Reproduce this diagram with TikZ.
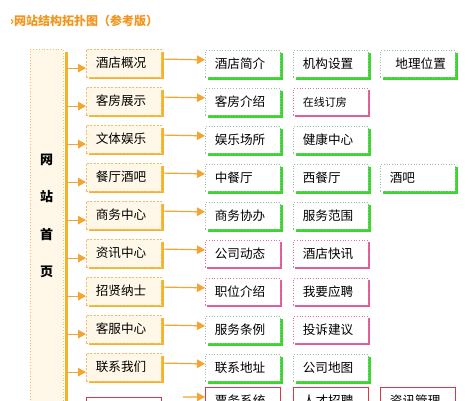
\documentclass[tikz,border=0pt]{standalone}
\usepackage{fontspec}
\newfontfamily\cjkfont{Noto Sans CJK SC}
\usepackage{xcolor}
\usetikzlibrary{positioning,arrows.meta,shadows}
\definecolor{titleorange}{RGB}{240,150,30}
\definecolor{trunkorange}{RGB}{245,180,40}
\definecolor{arroworange}{RGB}{242,165,50}
\definecolor{dashorange}{RGB}{240,190,110}
\definecolor{cream}{RGB}{255,248,232}
\definecolor{greenedge}{RGB}{150,195,170}
\definecolor{greenshade}{RGB}{60,215,45}
\definecolor{pinkedge}{RGB}{230,110,160}
\definecolor{pinkshade}{RGB}{225,90,150}
\definecolor{rededge}{RGB}{222,55,65}
\newcommand{\boxfont}{\cjkfont\fontsize{12.6}{15}\selectfont}

\begin{document}
\begin{tikzpicture}[x=1pt,y=-1pt,
  home/.style={draw=dashorange,dotted,line width=.8pt,fill=cream,minimum width=33pt,minimum height=380pt,anchor=north west,inner sep=0pt},
  hometext/.style={font=\cjkfont\bfseries\fontsize{13}{37.5}\selectfont,align=center},
  lvlone/.style={draw=dashorange,dash pattern=on 2pt off 1.5pt,line width=.7pt,fill=cream,text width=56pt,inner xsep=9.5pt,minimum height=27.5pt,align=left,anchor=north west,font=\boxfont,
    drop shadow={shadow xshift=2.5pt,shadow yshift=-2.5pt,fill=trunkorange,opacity=1}},
  lvltwo/.style={draw=greenedge,dotted,line width=.7pt,fill=white,text width=56pt,inner xsep=9.5pt,minimum height=27pt,align=left,anchor=north west,font=\boxfont},
  gbox/.style={lvltwo,drop shadow={shadow xshift=2.5pt,shadow yshift=-2.5pt,fill=greenshade,opacity=1}},
  pbox/.style={lvltwo,draw=pinkedge,drop shadow={shadow xshift=2pt,shadow yshift=-2pt,fill=pinkshade,opacity=1}},
  rbox/.style={lvltwo,draw=rededge,solid,line width=.9pt,drop shadow={shadow xshift=1pt,shadow yshift=-1pt,fill=rededge,opacity=1}},
  trunkline/.style={draw=trunkorange,line width=3pt},
  arr/.style={draw=arroworange,line width=1.2pt,-{Triangle[length=8pt,width=8.5pt]}}]
  \clip (0,0) rectangle (476,400);
  \fill[white] (0,0) rectangle (476,400);
  % title
  \node[anchor=west,inner sep=0pt,text=titleorange,font=\cjkfont\bfseries\fontsize{12}{14}\selectfont] (title) at (10,21) {›网站结构拓扑图（参考版）};
  % home column and trunk
  \node[home] (home) at (30,49) {};
  \node[hometext] (hometxt) at (46.5,216) {网\\站\\首\\页};
  \coordinate (trunk) at (66,52);
  \coordinate (trunkend) at (66,430);
  \draw[trunkline] (trunk) -- (trunkend);
  % first level
  \node[lvlone] (s1) at (86,49) {酒店概况};
  \node[lvlone] (s2) at (86,87) {客房展示};
  \node[lvlone] (s3) at (86,125) {文体娱乐};
  \node[lvlone] (s4) at (86,163) {餐厅酒吧};
  \node[lvlone] (s5) at (86,201) {商务中心};
  \node[lvlone] (s6) at (86,239) {资讯中心};
  \node[lvlone] (s7) at (86,277) {招贤纳士};
  \node[lvlone] (s8) at (86,315) {客服中心};
  \node[lvlone] (s9) at (86,353) {联系我们};
  \node[rbox,minimum height=28pt] (s10) at (86,397) {};
  % second level
  \node[gbox] (t1a) at (205,50) {酒店简介};
  \node[gbox] (t1b) at (293,50) {机构设置};
  \node[gbox,align=right] (t1c) at (380,50) {地理位置};
  \node[gbox] (t2a) at (205,88) {客房介绍};
  \node[pbox,font=\cjkfont\fontsize{11}{13}\selectfont] (t2b) at (293,88) {在线订房};
  \node[gbox] (t3a) at (205,126) {娱乐场所};
  \node[gbox] (t3b) at (293,126) {健康中心};
  \node[gbox] (t4a) at (205,164) {中餐厅};
  \node[gbox] (t4b) at (293,164) {西餐厅};
  \node[gbox] (t4c) at (380,164) {酒吧};
  \node[gbox] (t5a) at (205,202) {商务协办};
  \node[gbox] (t5b) at (293,202) {服务范围};
  \node[pbox] (t6a) at (205,240) {公司动态};
  \node[pbox] (t6b) at (293,240) {酒店快讯};
  \node[pbox] (t7a) at (205,278) {职位介绍};
  \node[pbox] (t7b) at (293,278) {我要应聘};
  \node[gbox] (t8a) at (205,316) {服务条例};
  \node[pbox] (t8b) at (293,316) {投诉建议};
  \node[gbox] (t9a) at (205,354) {联系地址};
  \node[gbox] (t9b) at (293,354) {公司地图};
  \node[rbox] (t10a) at (205,387) {票务系统};
  \node[rbox] (t10b) at (293,387) {人才招聘};
  \node[rbox] (t10c) at (380,387) {资讯管理};
  % trunk to first level
  \draw[arr] ([yshift=-5pt]s1.west -| trunk) -- ([yshift=-5pt]s1.west);
  \draw[arr] ([yshift=-5pt]s2.west -| trunk) -- ([yshift=-5pt]s2.west);
  \draw[arr] ([yshift=-5pt]s3.west -| trunk) -- ([yshift=-5pt]s3.west);
  \draw[arr] ([yshift=-5pt]s4.west -| trunk) -- ([yshift=-5pt]s4.west);
  \draw[arr] ([yshift=-5pt]s5.west -| trunk) -- ([yshift=-5pt]s5.west);
  \draw[arr] ([yshift=-5pt]s6.west -| trunk) -- ([yshift=-5pt]s6.west);
  \draw[arr] ([yshift=-5pt]s7.west -| trunk) -- ([yshift=-5pt]s7.west);
  \draw[arr] ([yshift=-5pt]s8.west -| trunk) -- ([yshift=-5pt]s8.west);
  \draw[arr] ([yshift=-5pt]s9.west -| trunk) -- ([yshift=-5pt]s9.west);
  \draw[arr] ([yshift=-5pt]s10.west -| trunk) -- ([yshift=-5pt]s10.west);
  % first level to second level
  \draw[arr] ([xshift=2.5pt,yshift=4pt]s1.east) -- ([yshift=4pt]t1a.west);
  \draw[arr] ([xshift=2.5pt,yshift=4pt]s2.east) -- ([yshift=4pt]t2a.west);
  \draw[arr] ([xshift=2.5pt,yshift=4pt]s3.east) -- ([yshift=4pt]t3a.west);
  \draw[arr] ([xshift=2.5pt,yshift=4pt]s4.east) -- ([yshift=4pt]t4a.west);
  \draw[arr] ([xshift=2.5pt,yshift=4pt]s5.east) -- ([yshift=4pt]t5a.west);
  \draw[arr] ([xshift=2.5pt,yshift=4pt]s6.east) -- ([yshift=4pt]t6a.west);
  \draw[arr] ([xshift=2.5pt,yshift=4pt]s7.east) -- ([yshift=4pt]t7a.west);
  \draw[arr] ([xshift=2.5pt,yshift=4pt]s8.east) -- ([yshift=4pt]t8a.west);
  \draw[arr] ([xshift=2.5pt,yshift=4pt]s9.east) -- ([yshift=4pt]t9a.west);
  \draw[arr] ([xshift=21pt]s10.north east) -- ([yshift=4pt]t10a.west);
\end{tikzpicture}
\end{document}
